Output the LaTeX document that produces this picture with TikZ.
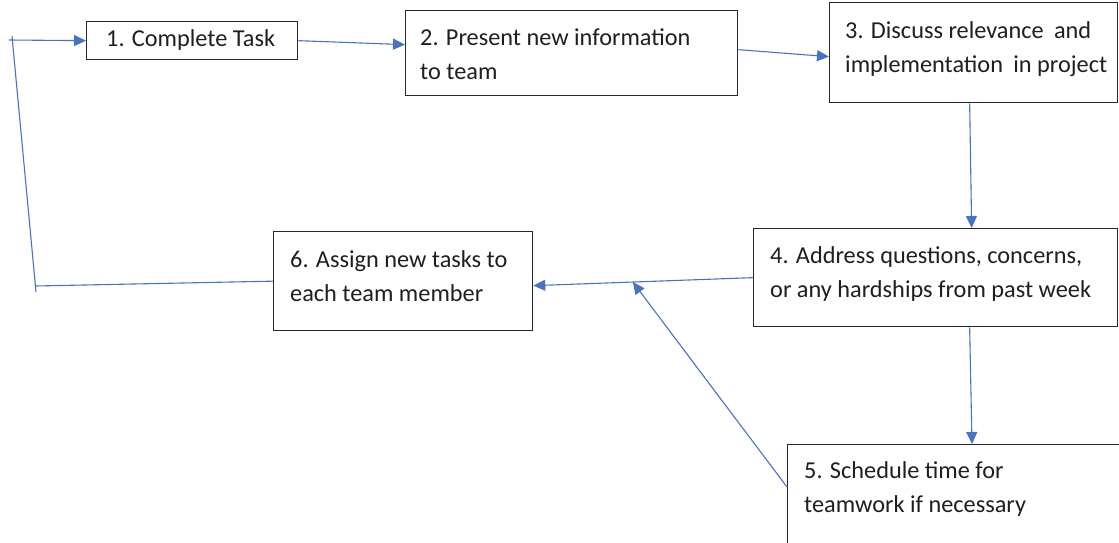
\documentclass[tikz,border=0pt]{standalone}
\usepackage{fontspec}
\setmainfont{Carlito}
\usetikzlibrary{arrows.meta,calc}
\definecolor{lineblue}{RGB}{72,114,196}
\definecolor{boxline}{RGB}{40,40,40}
\begin{document}
\begin{tikzpicture}[x=1pt,y=-1pt,
  box/.style={draw=boxline,line width=1.3pt,fill=white,rectangle,inner sep=0pt,anchor=north west},
  txt/.style={anchor=west,inner sep=0pt,align=left,font=\fontsize{24.3}{33.5}\selectfont,text=black!88},
  conn/.style={draw=lineblue,line width=1.1pt},
  arr/.style={conn,-{Triangle[length=12pt,width=11pt]}}]
\useasboundingbox (0,0) rectangle (1119,542);
\clip (0,0) rectangle (1119,542);
% boxes
\node[box,minimum width=211pt,minimum height=38pt] (b1) at (86,21) {};
\node[box,minimum width=332pt,minimum height=85pt] (b2) at (405,10) {};
\node[box,minimum width=288pt,minimum height=100pt] (b3) at (829,2) {};
\node[box,minimum width=364pt,minimum height=98pt] (b4) at (753,228) {};
\node[box,minimum width=340pt,minimum height=120pt] (b5) at (787,444) {};
\node[box,minimum width=259pt,minimum height=99pt] (b6) at (273,231) {};
% texts
\node[txt] (t1) at (106,40) {1. Complete Task};
\node[txt] (t2) at (420,54) {2. Present new information\\to team};
\node[txt] (t3) at (845,49) {3. Discuss relevance\hspace{0.2em} and\\implementation\hspace{0.2em} in project};
\node[txt] (t4) at (770,274) {4. Address questions, concerns,\\or any hardships from past week};
\node[txt] (t5) at (804,489) {5. Schedule time for\\teamwork if necessary};
\node[txt] (t6) at (290,276) {6. Assign new tasks to\\each team member};
% connectors
\coordinate (lb) at (35,286);
\coordinate (lbt) at (36,292);
\coordinate (lt) at (12,36);
\coordinate (lh) at (9,40);
\draw[conn] (b6.west) -- (lb);
\draw[conn] (lbt) -- (lt);
\draw[arr] (lh) -- (b1.west);
\draw[arr] (b1.east) -- ([yshift=8.5pt]b2.west);
\draw[arr] ([yshift=3.5pt]b2.east) -- ([yshift=-4pt]b3.west);
\draw[arr] ([xshift=-4pt]b3.south) -- ([xshift=36pt]b4.north);
\draw[arr] (b4.west) -- ([yshift=-4.5pt]b6.east);
\draw[arr] ([xshift=34pt]b4.south) -- (b5.north west -| 972,0);
\coordinate (m) at ($(b4.west)!0.547!([yshift=-4.5pt]b6.east)$);
\draw[arr] ([yshift=-43pt]b5.north west) -- (m);
\end{tikzpicture}
\end{document}
